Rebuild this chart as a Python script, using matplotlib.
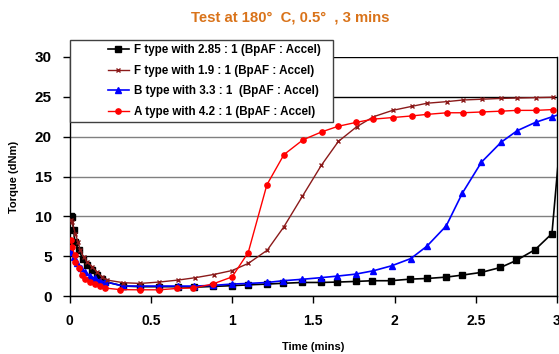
import numpy as np
import matplotlib
matplotlib.use("Agg")
from matplotlib import pyplot as plt
from matplotlib.patches import Rectangle

plt.rcParams['font.family'] = ['Liberation Sans', 'DejaVu Sans']

# F type 2.85 : 1
t_black = [0.01, 0.014, 0.025, 0.031, 0.056, 0.08, 0.107, 0.138, 0.168, 0.2, 0.218, 0.33, 0.434, 0.55,
           0.664, 0.763, 0.88, 1.0, 1.1, 1.216, 1.315, 1.432, 1.545, 1.648, 1.761, 1.864, 1.977, 2.096,
           2.198, 2.317, 2.415, 2.533, 2.652, 2.749, 2.866, 2.969, 3.03]
y_black = [10.0, 9.9, 8.25, 6.8, 5.75, 4.7, 3.9, 3.25, 2.6, 2.1, 1.8, 1.25, 1.17, 1.17,
           1.17, 1.1, 1.2, 1.3, 1.4, 1.5, 1.6, 1.7, 1.7, 1.75, 1.83, 1.92, 1.92, 2.12,
           2.2, 2.37, 2.62, 2.96, 3.58, 4.46, 5.83, 7.83, 22.0]

# F type 1.9 : 1
t_brown = [0.008, 0.014, 0.035, 0.051, 0.065, 0.086, 0.107, 0.138, 0.168, 0.2, 0.23, 0.33, 0.434, 0.55,
           0.667, 0.773, 0.886, 1.0, 1.1, 1.216, 1.319, 1.432, 1.549, 1.654, 1.767, 1.87, 1.988, 2.105,
           2.201, 2.323, 2.42, 2.537, 2.656, 2.753, 2.868, 2.975]
y_brown = [9.6, 9.3, 7.8, 6.8, 5.75, 4.9, 4.3, 3.7, 3.0, 2.4, 2.0, 1.67, 1.58, 1.75,
           2.0, 2.3, 2.7, 3.2, 4.1, 5.75, 8.7, 12.5, 16.4, 19.4, 21.25, 22.5, 23.3, 23.8,
           24.2, 24.4, 24.6, 24.7, 24.8, 24.85, 24.9, 24.95]

# B type 3.3 : 1
t_blue = [0.01, 0.025, 0.045, 0.072, 0.096, 0.127, 0.158, 0.189, 0.216, 0.33, 0.43, 0.55, 0.664, 0.763,
          0.88, 1.0, 1.1, 1.216, 1.315, 1.432, 1.545, 1.648, 1.761, 1.87, 1.983, 2.1, 2.199, 2.318,
          2.417, 2.535, 2.656, 2.755, 2.868, 2.971, 3.03]
y_blue = [5.5, 4.9, 4.1, 3.5, 3.0, 2.5, 2.2, 1.9, 1.8, 1.25, 1.25, 1.25, 1.25, 1.25,
          1.33, 1.5, 1.58, 1.7, 1.92, 2.1, 2.3, 2.5, 2.75, 3.17, 3.8, 4.7, 6.25, 8.8,
          12.9, 16.8, 19.3, 20.75, 21.8, 22.5, 22.9]

# A type 4.2 : 1
t_red = [0.01, 0.014, 0.031, 0.035, 0.056, 0.076, 0.096, 0.127, 0.158, 0.189, 0.22, 0.31, 0.43, 0.55,
         0.66, 0.76, 0.88, 1.0, 1.099, 1.214, 1.319, 1.436, 1.551, 1.652, 1.765, 1.868, 1.988, 2.105,
         2.201, 2.323, 2.42, 2.537, 2.656, 2.753, 2.868, 2.975]
y_red = [7.0, 6.2, 5.1, 4.3, 3.5, 2.6, 2.1, 1.8, 1.46, 1.25, 1.0, 0.8, 0.78, 0.78,
         0.95, 1.0, 1.5, 2.4, 5.46, 13.96, 17.75, 19.6, 20.6, 21.3, 21.8, 22.2, 22.4, 22.6,
         22.8, 23.0, 23.0, 23.1, 23.2, 23.3, 23.3, 23.4]

labels = ["F type with 2.85 : 1 (BpAF : Accel)",
          "F type with 1.9 : 1 (BpAF : Accel)",
          "B type with 3.3 : 1  (BpAF : Accel)",
          "A type with 4.2 : 1 (BpAF : Accel)"]

x_ticks = [0, 0.5, 1, 1.5, 2, 2.5, 3]
x_ticklabels = ["0", "0.5", "1", "1.5", "2", "2.5", "3"]
y_ticks = [0, 5, 10, 15, 20, 25, 30]
grid_colors = ['black', 'black', '#808080', '#808080', '#808080', 'black', 'black']

fig = plt.figure(figsize=(5.59, 3.54), dpi=100)
ax = fig.add_axes([0.1247, 0.1638, 0.8717, 0.6752])

for yv, gc in zip(y_ticks, grid_colors):
    ax.axhline(yv, color=gc, lw=1.0, zorder=1)

l1, = ax.plot(t_black, y_black, color='black', lw=1.2, marker='s', ms=4.5, zorder=3)
l2, = ax.plot(t_brown, y_brown, color='#8B1A1A', lw=1.0, marker='x', ms=3.5, mew=1.0, zorder=4)
l3, = ax.plot(t_blue, y_blue, color='#0000FF', lw=1.2, marker='^', ms=5, zorder=3)
l4, = ax.plot(t_red, y_red, color='#FF0000', lw=1.0, marker='o', ms=3.8, zorder=5)

ax.set_xlim(0, 3)
ax.set_ylim(0, 30)
ax.set_xticks(x_ticks)
ax.set_xticklabels(x_ticklabels, fontsize=10, fontweight='bold')
ax.set_yticks(y_ticks)
ax.set_yticklabels([str(v) for v in y_ticks], fontsize=11, fontweight='bold')
ax.tick_params(direction='out', length=5, width=1, pad=8)
ax.spines['top'].set_visible(False)
for s in ['left', 'bottom', 'right']:
    ax.spines[s].set_linewidth(1.0)

ax.set_xlabel("Time (mins)", fontsize=8, fontweight='bold', labelpad=10)
ax.set_ylabel("Torque (dNm)", fontsize=8, fontweight='bold', labelpad=11)

fig.text(0.519, 0.950, "Test at 180°  C, 0.5°  , 3 mins", color='#D9731A',
         fontsize=10.7, fontweight='bold', ha='center', va='center')

# legend frame drawn separately so the entries sit centred like the original
frame = Rectangle((70 / 559, 1 - 122 / 354), 263 / 559, 82 / 354, transform=fig.transFigure,
                  facecolor='white', edgecolor='#404040', lw=1.0, zorder=10)
fig.patches.append(frame)
leg = fig.legend([l1, l2, l3, l4], labels, loc='center left',
                 bbox_to_anchor=(102 / 559, 1 - 81 / 354), frameon=False,
                 prop={'size': 8.4, 'weight': 'bold'}, handlelength=1.8, handletextpad=0.4,
                 labelspacing=0.75, borderpad=0)
leg.set_zorder(11)

fig.savefig("out.png", dpi=100)
